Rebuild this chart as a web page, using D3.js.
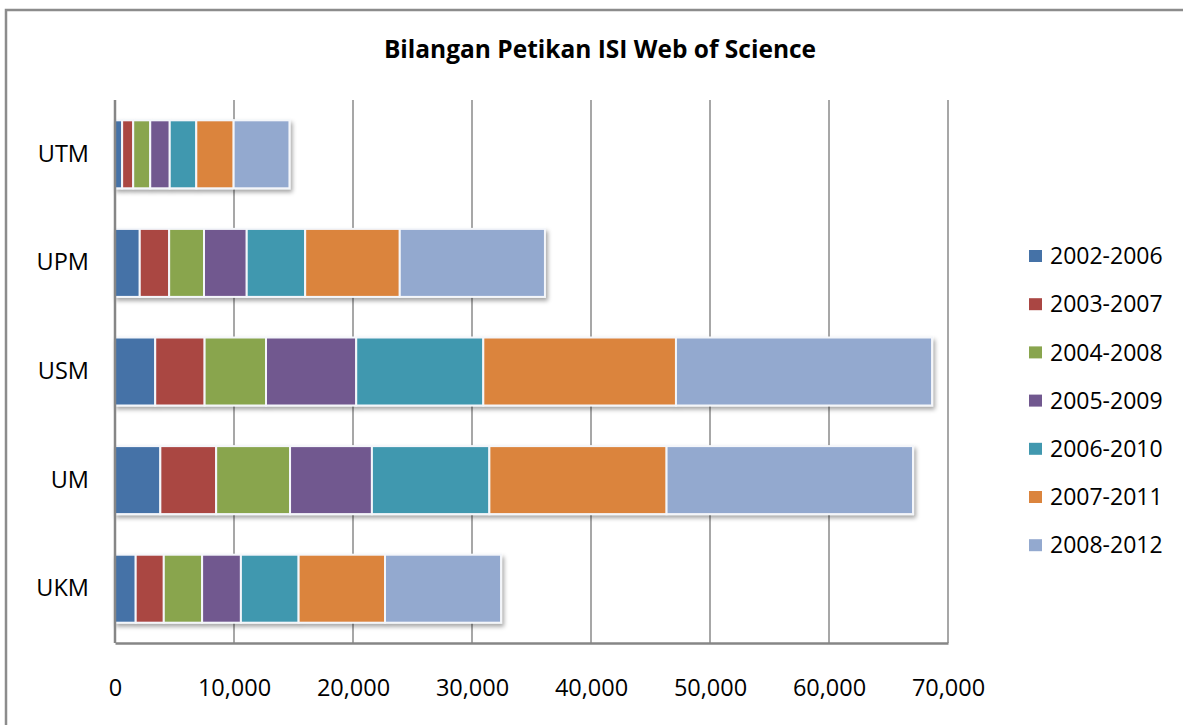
<!DOCTYPE html>
<html>
<head>
<meta charset="utf-8">
<script src="https://cdn.jsdelivr.net/npm/d3@7"></script>
<style>
  body { margin: 0; background: #fff; }
  text { font-family: "Open Sans", "Liberation Sans", sans-serif; fill: #000; }
</style>
</head>
<body>
<div id="chart"></div>
<script>
  var categories = ["UTM", "UPM", "USM", "UM", "UKM"];
  var periods = ["2002-2006", "2003-2007", "2004-2008", "2005-2009", "2006-2010", "2007-2011", "2008-2012"];

  // values per period, in the order of categories
  var p2002_2006 = [600, 2080, 3380, 3810, 1740];
  var p2003_2007 = [930, 2470, 4150, 4690, 2360];
  var p2004_2008 = [1430, 2930, 5160, 6210, 3220];
  var p2005_2009 = [1640, 3590, 7580, 6880, 3260];
  var p2006_2010 = [2230, 4910, 10680, 9870, 4850];
  var p2007_2011 = [3140, 7950, 16190, 14890, 7260];
  var p2008_2012 = [4690, 12200, 21520, 20710, 9750];

  var xTicks = [0, 10000, 20000, 30000, 40000, 50000, 60000, 70000];
  var colors = ["#4572A7", "#AA4643", "#89A54E", "#71588F", "#4198AF", "#DB843D", "#93A9CF"];

  var seriesValues = [p2002_2006, p2003_2007, p2004_2008, p2005_2009, p2006_2010, p2007_2011, p2008_2012];

  var width = 1183, height = 725;
  var plotLeft = 115, plotRight = 948, plotTop = 100, plotBottom = 643;

  // build rows for the stack
  var rows = categories.map(function(c, i) {
    var r = {name: c};
    periods.forEach(function(p, j) { r[p] = seriesValues[j][i]; });
    return r;
  });
  var stacked = d3.stack().keys(periods)(rows);

  var x = d3.scaleLinear().domain([0, 70000]).range([plotLeft, plotRight]);
  var y = d3.scaleBand().domain(categories).range([plotTop, plotBottom])
    .paddingInner(0.374).paddingOuter(0.187);
  var color = d3.scaleOrdinal().domain(periods).range(colors);

  var svg = d3.select("#chart").append("svg")
    .attr("width", width)
    .attr("height", height);

  var defs = svg.append("defs");
  var f = defs.append("filter").attr("id", "shadow")
    .attr("x", "-5%").attr("y", "-20%").attr("width", "115%").attr("height", "150%");
  f.append("feDropShadow")
    .attr("dx", 2).attr("dy", 3).attr("stdDeviation", 2.2)
    .attr("flood-color", "#000").attr("flood-opacity", 0.35);

  /* frame */
  svg.append("path")
    .attr("d", "M6," + height + "V10H" + width)
    .attr("fill", "none")
    .attr("stroke", "#8c8c8c")
    .attr("stroke-width", 2.5);

  /* title */
  svg.append("text")
    .attr("x", 600)
    .attr("y", 58)
    .attr("text-anchor", "middle")
    .style("font-size", "24.5px")
    .style("font-weight", "bold")
    .text("Bilangan Petikan ISI Web of Science");

  /* gridlines */
  svg.append("g")
    .selectAll("line")
    .data(xTicks.slice(1)).enter()
    .append("line")
    .attr("x1", d => x(d)).attr("x2", d => x(d))
    .attr("y1", plotTop).attr("y2", plotBottom)
    .attr("stroke", "#8a8a8a")
    .attr("stroke-width", 1.5);

  /* bars */
  var barGroups = svg.append("g")
    .selectAll("g")
    .data(categories).enter()
    .append("g")
    .attr("filter", "url(#shadow)");

  barGroups.selectAll("rect")
    .data(function(c) {
      return stacked.map(function(s) {
        var d = s.find(v => v.data.name === c);
        return {key: s.key, x0: d[0], x1: d[1], cat: c};
      });
    }).enter()
    .append("rect")
    .attr("x", d => x(d.x0))
    .attr("y", d => y(d.cat))
    .attr("width", d => x(d.x1) - x(d.x0))
    .attr("height", y.bandwidth())
    .attr("fill", d => color(d.key))
    .attr("stroke", "#f4f6fa")
    .attr("stroke-width", 2);

  /* axes */
  var xAxis = d3.axisBottom(x)
    .tickValues(xTicks)
    .tickFormat(d3.format(","))
    .tickSize(0)
    .tickSizeOuter(0)
    .tickPadding(36);

  var gx = svg.append("g")
    .attr("transform", `translate(0, ${plotBottom})`)
    .call(xAxis);
  gx.select(".domain").attr("stroke", "#868686").attr("stroke-width", 2.5);
  gx.selectAll("text").style("font-size", "23.5px").attr("fill", "#000");

  var yAxis = d3.axisLeft(y).tickSize(0).tickSizeOuter(0).tickPadding(26);
  var gy = svg.append("g")
    .attr("transform", `translate(${plotLeft}, 0)`)
    .call(yAxis);
  gy.select(".domain").attr("stroke", "#868686").attr("stroke-width", 2.5)
    .attr("d", `M0,${plotTop}V${plotBottom}`);
  gy.selectAll("text").style("font-size", "23.5px").attr("fill", "#000");

  /* legend */
  var legend = svg.append("g")
    .selectAll("g")
    .data(periods).enter()
    .append("g")
    .attr("transform", (d, i) => `translate(1029, ${256 + i * 48.2})`);

  legend.append("rect")
    .attr("x", 0).attr("y", -6)
    .attr("width", 13).attr("height", 12)
    .attr("fill", d => color(d));

  legend.append("text")
    .attr("x", 21)
    .attr("dy", "0.36em")
    .style("font-size", "23px")
    .text(d => d);
</script>
</body>
</html>
